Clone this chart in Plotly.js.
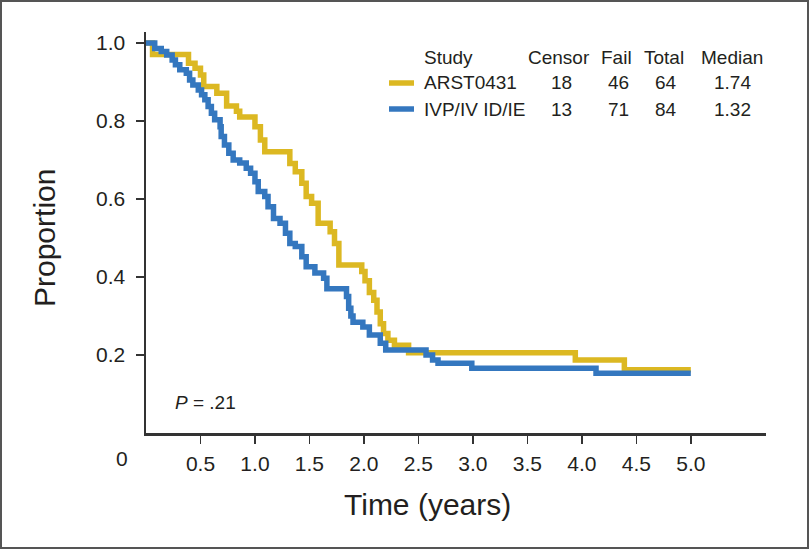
<!DOCTYPE html>
<html><head><meta charset="utf-8">
<script src="https://cdn.plot.ly/plotly-3.0.1.min.js"></script>
<style>
html,body{margin:0;padding:0;background:#fff}
#wrap{position:relative;width:809px;height:549px}
#chart{width:809px;height:549px}
#frame{position:absolute;left:0;top:0;width:809px;height:549px;box-sizing:border-box;border:2px solid #555;pointer-events:none}
</style>
</head><body>
<div id="wrap"><div id="chart"></div><div id="frame"></div></div>
<script>
// ---- Data (Kaplan-Meier step starts) ----
const arstTime = [0, 0.06, 0.39, 0.45, 0.50, 0.53, 0.65, 0.74, 0.83, 0.86, 1.00, 1.05, 1.09, 1.32, 1.37, 1.43, 1.47, 1.52, 1.58, 1.69, 1.73, 1.77, 1.98, 2.01, 2.05, 2.09, 2.12, 2.15, 2.18, 2.22, 2.28, 2.41, 3.94, 4.39, 5.00];
const arstSurv = [1.0, 0.97, 0.948, 0.935, 0.918, 0.888, 0.871, 0.838, 0.825, 0.81, 0.785, 0.751, 0.721, 0.691, 0.67, 0.64, 0.606, 0.589, 0.538, 0.516, 0.486, 0.431, 0.414, 0.39, 0.36, 0.34, 0.31, 0.28, 0.255, 0.238, 0.225, 0.206, 0.187, 0.162, 0.162];

const ivpTime = [0, 0.08, 0.14, 0.19, 0.24, 0.27, 0.31, 0.37, 0.40, 0.43, 0.48, 0.51, 0.54, 0.57, 0.60, 0.63, 0.68, 0.69, 0.72, 0.76, 0.80, 0.86, 0.92, 0.96, 1.00, 1.03, 1.09, 1.12, 1.17, 1.23, 1.28, 1.32, 1.37, 1.43, 1.47, 1.55, 1.63, 1.66, 1.84, 1.86, 1.88, 1.90, 1.99, 2.05, 2.15, 2.20, 2.57, 2.63, 2.68, 2.99, 4.13, 5.00];
const ivpSurv = [1.0, 0.986, 0.978, 0.969, 0.956, 0.944, 0.931, 0.922, 0.905, 0.892, 0.879, 0.867, 0.854, 0.837, 0.82, 0.803, 0.785, 0.76, 0.738, 0.717, 0.70, 0.692, 0.679, 0.666, 0.644, 0.619, 0.606, 0.58, 0.55, 0.538, 0.512, 0.486, 0.478, 0.452, 0.426, 0.41, 0.397, 0.37, 0.35, 0.32, 0.30, 0.284, 0.272, 0.251, 0.23, 0.213, 0.20, 0.187, 0.179, 0.166, 0.153, 0.153];

// ---- Summary table ----
const studies = ["ARST0431", "IVP/IV ID/IE"];
const censor = ["18", "13"];
const fail = ["46", "71"];
const total = ["64", "84"];
const median = ["1.74", "1.32"];
const headers = ["Study", "Censor", "Fail", "Total", "Median"];
const colors = ["#dcb822", "#3477bf"];

// ---- Ticks ----
const xTicks = [0.5, 1.0, 1.5, 2.0, 2.5, 3.0, 3.5, 4.0, 4.5, 5.0];
const xTickText = ["0.5", "1.0", "1.5", "2.0", "2.5", "3.0", "3.5", "4.0", "4.5", "5.0"];
const yTicks = [0.2, 0.4, 0.6, 0.8, 1.0];
const yTickText = ["0.2", "0.4", "0.6", "0.8", "1.0"];

const M = {l: 146, r: 43, t: 32, b: 116};
const W = 809, H = 549;
const PW = W - M.l - M.r, PH = H - M.t - M.b;
const px = x => (x - M.l) / PW;
const py = y => (H - M.b - y) / PH;

const FONT = "Liberation Sans, Arial, Helvetica, sans-serif";
const TXT = "#231f20";

const traces = [
  {x: arstTime, y: arstSurv, type: "scatter", mode: "lines", line: {shape: "hv", color: colors[0], width: 5.5}, name: studies[0], showlegend: false, hoverinfo: "skip"},
  {x: ivpTime, y: ivpSurv, type: "scatter", mode: "lines", line: {shape: "hv", color: colors[1], width: 5.5}, name: studies[1], showlegend: false, hoverinfo: "skip"}
];

const ann = [];
const shapes = [];
const colX = [559, 616, 664, 732];
const headY = 57, rowY = [83, 109];
function addText(text, x, y, anchor, size) {
  ann.push({text: text, xref: "paper", yref: "paper", x: px(x), y: py(y), xanchor: anchor, yanchor: "middle",
    showarrow: false, font: {family: FONT, size: size || 19, color: TXT}});
}
addText(headers[0], 422, headY, "left");
headers.slice(1).forEach((h, i) => addText(h, colX[i], headY, "center"));
studies.forEach((s, r) => {
  addText(s, 422, rowY[r], "left");
  [censor[r], fail[r], total[r], median[r]].forEach((v, i) => addText(v, colX[i] + (i < 3 ? 2 : 0), rowY[r], "center"));
  shapes.push({type: "line", xref: "paper", yref: "paper", x0: px(389), x1: px(414), y0: py(rowY[r]), y1: py(rowY[r]),
    line: {color: colors[r], width: 5.5}});
});
ann.push({text: "<i>P</i> = .21", xref: "paper", yref: "paper", x: px(173), y: py(402), xanchor: "left", yanchor: "middle",
  showarrow: false, font: {family: FONT, size: 19, color: TXT}});
addText("0", 122, 458, "center", 21);
ann.push({text: "Time (years)", xref: "paper", yref: "paper", x: px(427), y: py(504), xanchor: "center", yanchor: "middle",
  showarrow: false, font: {family: FONT, size: 30, color: TXT}});
ann.push({text: "Proportion", xref: "paper", yref: "paper", x: px(44), y: py(238), xanchor: "center", yanchor: "middle",
  textangle: -90, showarrow: false, font: {family: FONT, size: 30, color: TXT}});

const layout = {
  width: W, height: H,
  margin: M,
  paper_bgcolor: "#fff", plot_bgcolor: "#fff",
  font: {family: FONT, color: TXT, size: 21},
  showlegend: false,
  xaxis: {range: [0, 5.69], tickvals: xTicks, ticktext: xTickText, ticks: "outside", ticklen: 8, tickwidth: 1.5, tickcolor: "#333",
    showline: true, linecolor: "#333", linewidth: 2.5, showgrid: false, zeroline: false, tickfont: {size: 21, family: FONT, color: TXT},
    ticklabelstandoff: 2, fixedrange: true},
  yaxis: {range: [0, 1.028], tickvals: yTicks, ticktext: yTickText, ticks: "outside", ticklen: 8, tickwidth: 1.5, tickcolor: "#333",
    showline: true, linecolor: "#333", linewidth: 2.5, showgrid: false, zeroline: false, tickfont: {size: 21, family: FONT, color: TXT},
    ticklabelstandoff: 6, fixedrange: true},
  annotations: ann,
  shapes: shapes
};
Plotly.newPlot("chart", traces, layout, {staticPlot: true, displayModeBar: false});
</script>
</body></html>
